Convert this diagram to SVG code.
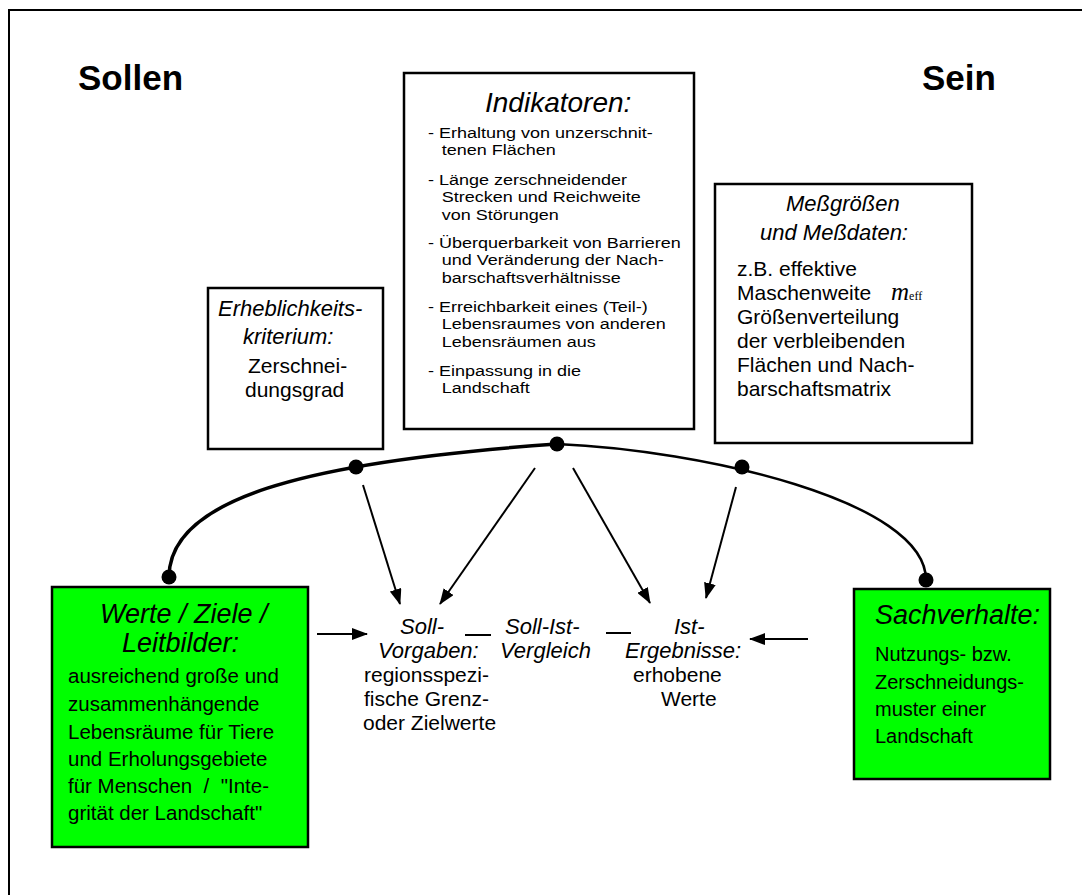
<svg xmlns="http://www.w3.org/2000/svg" width="1082" height="895" viewBox="0 0 1082 895">
<defs>
<marker id="ah" markerWidth="16" markerHeight="12" refX="15" refY="6" orient="auto" markerUnits="userSpaceOnUse">
<path d="M0,0 L16,6 L0,12 Z" fill="#000"/>
</marker>
<style>
.t{font-family:"Liberation Sans",Arial,sans-serif;fill:#000}
.i{font-style:italic}
.b{font-weight:bold}
.box{fill:#fff;stroke:#000;stroke-width:2.5}
.green{fill:#00ff00;stroke:#000;stroke-width:2.5}
.dot{fill:#000}
.arr{stroke:#000;stroke-width:2;fill:none;marker-end:url(#ah)}
.ln{stroke:#000;stroke-width:2;fill:none}
</style>
</defs>
<rect x="9" y="10" width="1100" height="900" fill="#fff" stroke="#000" stroke-width="2"/>
<g id="sollen"><text class="t b" x="78" y="90" font-size="35">Sollen</text></g>
<g id="sein"><text class="t b" x="922" y="90" font-size="35">Sein</text></g>

<g id="indikatoren">
<rect class="box" x="404" y="73" width="290" height="356"/>
<text class="t i" x="485" y="112" font-size="28">Indikatoren:</text>
<text class="t" font-size="15" transform="translate(428,0) scale(1.2,1)">
<tspan x="0" y="138">- Erhaltung von unzerschnit-</tspan>
<tspan x="11.5" y="155.5">tenen Flächen</tspan>
<tspan x="0" y="185">- Länge zerschneidender</tspan>
<tspan x="11.5" y="202.5">Strecken und Reichweite</tspan>
<tspan x="11.5" y="220">von Störungen</tspan>
<tspan x="0" y="248">- Überquerbarkeit von Barrieren</tspan>
<tspan x="11.5" y="265.5">und Veränderung der Nach-</tspan>
<tspan x="11.5" y="283">barschaftsverhältnisse</tspan>
<tspan x="0" y="312">- Erreichbarkeit eines (Teil-)</tspan>
<tspan x="11.5" y="329.5">Lebensraumes von anderen</tspan>
<tspan x="11.5" y="347">Lebensräumen aus</tspan>
<tspan x="0" y="376">- Einpassung in die</tspan>
<tspan x="11.5" y="393.5">Landschaft</tspan>
</text>
</g>

<g id="erheblichkeit">
<rect class="box" x="208" y="288" width="175" height="161"/>
<text class="t i" font-size="22"><tspan x="218" y="316">Erheblichkeits-</tspan><tspan x="243" y="344">kriterium:</tspan></text>
<text class="t" font-size="21"><tspan x="248" y="373">Zerschnei-</tspan><tspan x="245" y="397">dungsgrad</tspan></text>
</g>

<g id="messgroessen">
<rect class="box" x="715" y="184" width="257" height="259"/>
<text class="t i" font-size="22"><tspan x="786" y="211">Meßgrößen</tspan><tspan x="760" y="240">und Meßdaten:</tspan></text>
<text class="t" font-size="21">
<tspan x="737" y="276">z.B. effektive</tspan>
<tspan x="737" y="300">Maschenweite</tspan>
<tspan x="737" y="324">Größenverteilung</tspan>
<tspan x="737" y="348">der verbleibenden</tspan>
<tspan x="737" y="372">Flächen und Nach-</tspan>
<tspan x="737" y="396">barschaftsmatrix</tspan>
</text>
<text font-family="'Liberation Serif','Times New Roman',serif" fill="#000" x="891" y="300"><tspan font-style="italic" font-size="25">m</tspan><tspan font-size="12">eff</tspan></text>
</g>

<g id="werte">
<rect class="green" x="52" y="587" width="256" height="260"/>
<text class="t i" font-size="27"><tspan x="100" y="623">Werte / Ziele /</tspan><tspan x="122" y="652">Leitbilder:</tspan></text>
<text class="t" font-size="20.5">
<tspan x="68" y="683">ausreichend große und</tspan>
<tspan x="68" y="711">zusammenhängende</tspan>
<tspan x="68" y="739">Lebensräume für Tiere</tspan>
<tspan x="68" y="766">und Erholungsgebiete</tspan>
<tspan x="68" y="793">für Menschen&#160; /&#160; "Inte-</tspan>
<tspan x="68" y="820">grität der Landschaft"</tspan>
</text>
</g>

<g id="sachverhalte">
<rect class="green" x="854" y="589" width="196" height="190"/>
<text class="t i" x="875" y="624" font-size="27">Sachverhalte:</text>
<text class="t" font-size="20">
<tspan x="875" y="661">Nutzungs- bzw.</tspan>
<tspan x="875" y="689">Zerschneidungs-</tspan>
<tspan x="875" y="716">muster einer</tspan>
<tspan x="875" y="743">Landschaft</tspan>
</text>
</g>

<g id="soll-vorgaben">
<text class="t i" font-size="22"><tspan x="400" y="634">Soll-</tspan><tspan x="378" y="658">Vorgaben:</tspan></text>
<text class="t" font-size="21"><tspan x="364" y="682">regionsspezi-</tspan><tspan x="364" y="706">fische Grenz-</tspan><tspan x="363" y="730">oder Zielwerte</tspan></text>
</g>
<g id="soll-ist-vergleich">
<text class="t i" font-size="22"><tspan x="505" y="634">Soll-Ist-</tspan><tspan x="500" y="658">Vergleich</tspan></text>
</g>
<g id="ist-ergebnisse">
<text class="t i" font-size="22"><tspan x="674" y="634">Ist-</tspan><tspan x="625" y="658">Ergebnisse:</tspan></text>
<text class="t" font-size="21"><tspan x="633" y="682">erhobene</tspan><tspan x="661" y="706">Werte</tspan></text>
</g>

<g id="connectors">
<path d="M169,577 C169,500 300,462 557,444" stroke="#000" stroke-width="3.5" fill="none"/>
<path d="M557,444 C700,450 926,500 926,580" stroke="#000" stroke-width="2.5" fill="none"/>
<circle class="dot" cx="169" cy="577" r="7.5"/>
<circle class="dot" cx="356" cy="467" r="7.5"/>
<circle class="dot" cx="557" cy="444" r="7.5"/>
<circle class="dot" cx="742" cy="467" r="7.5"/>
<circle class="dot" cx="926" cy="580" r="7.5"/>
<line class="arr" x1="363" y1="485" x2="400" y2="604"/>
<line class="arr" x1="535" y1="468" x2="440" y2="604"/>
<line class="arr" x1="573" y1="468" x2="650" y2="603"/>
<line class="arr" x1="736" y1="487" x2="706" y2="598"/>
<line class="arr" x1="317" y1="634" x2="367" y2="634"/>
<line class="arr" x1="808" y1="639" x2="750" y2="639"/>
<line class="ln" x1="465" y1="635" x2="491" y2="635"/>
<line class="ln" x1="606" y1="633" x2="631" y2="633"/>
</g>
</svg>
